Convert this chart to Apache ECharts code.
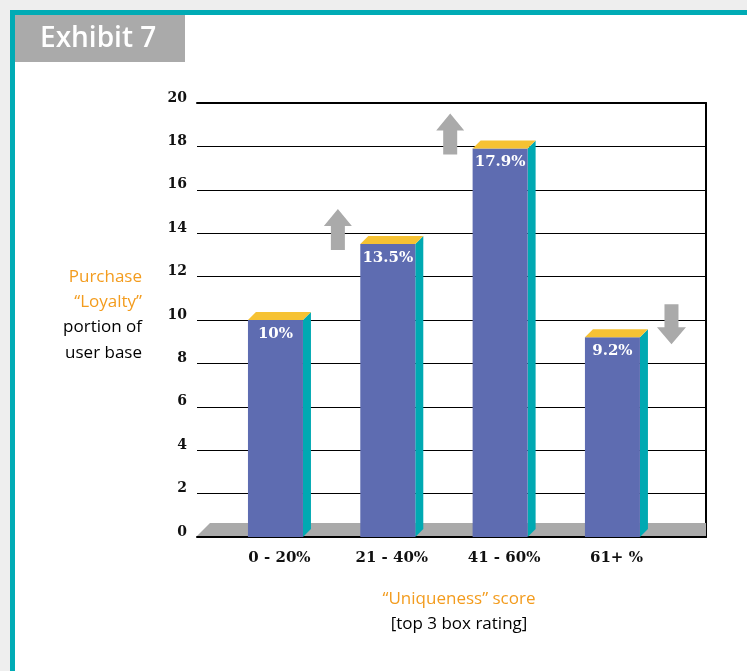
<!DOCTYPE html>
<html>
<head>
<meta charset="utf-8">
<script src="https://cdn.jsdelivr.net/npm/echarts@6/dist/echarts.min.js"></script>
<style>
html,body{margin:0;padding:0;background:#eeeeee;overflow:hidden;width:747px;height:671px;}
#frame{position:absolute;left:10px;top:10px;width:900px;height:900px;background:#ffffff;border-left:5px solid #00abb5;border-top:5px solid #00abb5;}
#chart{position:absolute;left:0;top:0;width:747px;height:671px;}
</style>
</head>
<body>
<div id="frame"></div>
<div id="chart"></div>
<script>
// ---- data ----
const categories = ['0 - 20%', '21 - 40%', '41 - 60%', '61+ %'];
const values = [10, 13.5, 17.9, 9.2];
const valueLabels = ['10%', '13.5%', '17.9%', '9.2%'];
const trends = ['', 'up', 'up', 'down'];
const yMin = 0, yMax = 20, yStep = 2;
const yTitleLines = ['Purchase', '\u201cLoyalty\u201d', 'portion of', 'user base'];
const xTitleLines = ['\u201cUniqueness\u201d score', '[top 3 box rating]'];
const exhibitTitle = 'Exhibit 7';

// ---- styles ----
const FRONT = '#5e6cb1', SIDE = '#00a9b2', TOPC = '#f6c233', FLOOR = '#aaaaaa', ARROW = '#aaaaaa';
const ORANGE = '#f39c1e';
const SERIF = '"DejaVu Serif", serif';
const SANS = '"Open Sans", "Noto Sans", sans-serif';

const chart = echarts.init(document.getElementById('chart'), null, {renderer: 'canvas'});

function renderFloor(params, api) {
  const c = params.coordSys;
  const b = c.y + c.height - 1, d = 13;
  return {
    type: 'polygon', silent: true,
    shape: {points: [[c.x, b], [c.x + d, b - d], [c.x + c.width, b - d], [c.x + c.width, b]]},
    style: {fill: FLOOR}
  };
}

function renderBar(params, api) {
  const i = params.dataIndex;
  const idx = api.value(0), v = api.value(1);
  const base = api.coord([idx, 0]);
  const top = api.coord([idx, v]);
  const band = api.size([1, 0])[0];
  const fw = 55, dp = 8;
  const cx = base[0];
  const x0 = cx - (fw + dp) / 2, x1 = x0 + fw;
  const ty = top[1], by = base[1];
  const children = [
    {type: 'polygon', shape: {points: [[x1, ty], [x1 + dp, ty - dp], [x1 + dp, by - dp], [x1, by]]}, style: {fill: SIDE}},
    {type: 'rect', shape: {x: x0, y: ty, width: fw, height: by - ty}, style: {fill: FRONT}},
    {type: 'polygon', shape: {points: [[x0, ty], [x0 + dp, ty - dp], [x1 + dp, ty - dp], [x1, ty]]}, style: {fill: TOPC}},
    {type: 'text', style: {text: valueLabels[i], x: x0 + fw / 2, y: ty + 14, align: 'center', verticalAlign: 'middle',
      fill: '#ffffff', font: 'bold 15px ' + SERIF}}
  ];
  const t = trends[i];
  if (t === 'up') {
    const ax = cx - band * 0.48, bot = ty + 6, tip = bot - 41;
    children.push({type: 'polygon', shape: {points: [
      [ax, tip], [ax + 14, tip + 17], [ax + 7, tip + 17], [ax + 7, bot], [ax - 7, bot], [ax - 7, tip + 17], [ax - 14, tip + 17]
    ]}, style: {fill: ARROW}});
  } else if (t === 'down') {
    const ax = cx + band * 0.49, topY = ty - 33, tip = topY + 40;
    children.push({type: 'polygon', shape: {points: [
      [ax - 7, topY], [ax + 7, topY], [ax + 7, topY + 23], [ax + 14.5, topY + 23], [ax, tip], [ax - 14.5, topY + 23], [ax - 7, topY + 23]
    ]}, style: {fill: ARROW}});
  }
  return {type: 'group', children: children};
}

const graphics = [
  {type: 'rect', left: 15, top: 15, shape: {width: 170, height: 47}, style: {fill: '#aaaaaa'}, z: 10},
  {type: 'text', x: 40, y: 39, style: {text: exhibitTitle, fill: '#ffffff', font: '600 28px ' + SANS, verticalAlign: 'middle'}, z: 11}
];
yTitleLines.forEach((s, k) => {
  graphics.push({type: 'text', x: 142, y: 277 + k * 25.3,
    style: {text: s, fill: k < 2 ? ORANGE : '#000000', font: '500 17px ' + SANS, align: 'right', verticalAlign: 'middle'}});
});
xTitleLines.forEach((s, k) => {
  graphics.push({type: 'text', x: 459, y: 599 + k * 25,
    style: {text: s, fill: k < 1 ? ORANGE : '#000000', font: '500 17px ' + SANS, align: 'center', verticalAlign: 'middle'}});
});

const option = {
  backgroundColor: 'transparent',
  animation: false,
  grid: [
    {left: 197, right: 41, top: 103, bottom: 134},
    {left: 223.3, right: 74.4, top: 103, bottom: 134}
  ],
  xAxis: [
    {gridIndex: 0, type: 'value', min: 0, max: 1, position: 'bottom',
      axisLine: {show: true, onZero: false, lineStyle: {color: '#000', width: 2}}, axisTick: {show: false}, axisLabel: {show: false}, splitLine: {show: false}},
    {gridIndex: 0, type: 'value', min: 0, max: 1, position: 'top',
      axisLine: {show: true, onZero: false, lineStyle: {color: '#000', width: 2}}, axisTick: {show: false}, axisLabel: {show: false}, splitLine: {show: false}},
    {gridIndex: 1, type: 'category', data: categories,
      axisLine: {show: false, onZero: false}, axisTick: {show: false}, splitLine: {show: false},
      axisLabel: {margin: 14, color: '#111', fontFamily: SERIF, fontWeight: 'bold', fontSize: 15}}
  ],
  yAxis: [
    {gridIndex: 0, type: 'value', min: yMin, max: yMax, interval: yStep,
      axisLine: {show: false, onZero: false}, axisTick: {show: false},
      axisLabel: {margin: 10, color: '#111', fontFamily: SERIF, fontWeight: 'bold', fontSize: 14, verticalAlign: 'bottom', lineHeight: 10},
      splitLine: {show: true, lineStyle: {color: '#000', width: 1}}},
    {gridIndex: 0, type: 'value', min: yMin, max: yMax, position: 'right',
      axisLine: {show: true, onZero: false, lineStyle: {color: '#000', width: 2}}, axisTick: {show: false}, axisLabel: {show: false}, splitLine: {show: false}},
    {gridIndex: 1, type: 'value', min: yMin, max: yMax, show: false}
  ],
  series: [
    {type: 'custom', xAxisIndex: 0, yAxisIndex: 0, data: [[0, 0]], renderItem: renderFloor, z: 1, silent: true},
    {type: 'custom', xAxisIndex: 2, yAxisIndex: 2, data: values.map((v, i) => [i, v]), renderItem: renderBar, z: 3, silent: true}
  ],
  graphic: graphics
};
chart.setOption(option);
</script>
</body>
</html>
